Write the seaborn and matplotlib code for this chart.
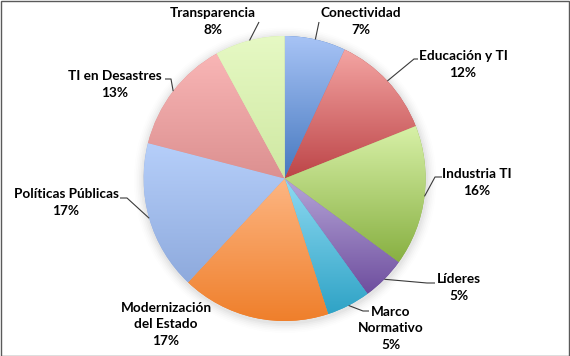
import numpy as np
import matplotlib
matplotlib.use("Agg")
import matplotlib.pyplot as plt
from matplotlib.patches import Ellipse, Rectangle
from matplotlib.colors import to_rgb
import seaborn as sns

# Share of projects by area (percent)
categories = ["Conectividad", "Educación y TI", "Industria TI", "Líderes",
              "Marco\nNormativo", "Modernización\ndel Estado", "Políticas Públicas",
              "TI en Desastres", "Transparencia"]
shares = [7, 12, 16, 5, 5, 17, 17, 13, 8]

# Vertical gradient (top colour, bottom colour) for each slice
top_colors = ["#a8c4f6", "#f4a5a3", "#d8f1a8", "#b6a6d8", "#8fdaf2",
              "#fdb683", "#b6cffa", "#f9b6b6", "#e6f9c4"]
bottom_colors = ["#4678bf", "#bd4548", "#88b042", "#6e4e9e", "#2fa3c6",
                 "#ef7f2b", "#8eaadd", "#dc9090", "#cfe8a2"]

sns.set_theme(style="white")
plt.rcParams["font.family"] = ["Lato", "DejaVu Sans"]

W, H = 570, 356
CX, CY = 284.6, 178.5          # pie centre, pixels from top-left
RX, RY = 141.0, 142.5          # pie radii, pixels

fig = plt.figure(figsize=(W / 100, H / 100), dpi=100)
fig.patch.set_facecolor("white")
ax = fig.add_axes([0, 0, 1, 1])
ax.set_facecolor("white")


def px_to_data(x, y):
    return (x - CX) / RX, (CY - y) / RY


# soft shadow under the pie
for i, a in enumerate(np.linspace(0.05, 0.012, 6)):
    grow = 0.012 * (i + 1)
    ax.add_patch(Ellipse((0.004, -0.012), 2 + 2 * grow, 2 + 2 * grow * RX / RY,
                         facecolor="#7f7f7f", edgecolor="none", alpha=a, zorder=0))

wedges, _ = ax.pie(shares, startangle=90, counterclock=False, radius=1.0,
                   center=(0, 0), wedgeprops=dict(linewidth=0, edgecolor="none"))

for w, c_top, c_bot in zip(wedges, top_colors, bottom_colors):
    w.set_facecolor(c_bot)
    w.set_zorder(1)
    ext = w.get_path().get_extents()
    t = np.linspace(0, 1, 256)[:, None]
    grad = (1 - t) * np.array(to_rgb(c_bot)) + t * np.array(to_rgb(c_top))
    grad = grad[:, None, :].repeat(2, axis=1)
    im = ax.imshow(grad, extent=[ext.x0, ext.x1, ext.y0, ext.y1], origin="lower",
                   aspect="auto", interpolation="bilinear", zorder=2)
    im.set_clip_path(w)

ax.set_aspect("auto")
ax.set_xlim(-CX / RX, (W - CX) / RX)
ax.set_ylim(-(H - CY) / RY, CY / RY)
ax.axis("off")

# label centres (pixels) and leader anchors (pixels) with stub length
label_pos = [(361, 21.5), (463, 64.5), (477, 182.5), (459, 287.5), (391, 328.5),
             (166, 324.5), (66, 202.5), (115, 84.5), (213, 21.5)]
leader_anchor = [(319, 22, 0), (418, 59, -4), (442, 177, -7), (435, 283, -8),
                 (369, 311, -6), None, (120, 198, 7), (165, 79, 6), (259, 22, 0)]

for w, name, share, pos, anc in zip(wedges, categories, shares, label_pos, leader_anchor):
    fig.text(pos[0] / W, 1 - pos[1] / H, f"{name}\n{share}%", ha="center", va="center",
             fontsize=9.8, fontweight="bold", color="black", linespacing=1.42)
    if anc is None:
        continue
    mid = np.deg2rad((w.theta1 + w.theta2) / 2)
    ex, ey = np.cos(mid), np.sin(mid)
    ax_, ay_ = px_to_data(anc[0], anc[1])
    bx_, by_ = px_to_data(anc[0] + anc[2], anc[1])
    ax.plot([ax_, bx_, ex], [ay_, by_, ey], color="#3a3a3a", lw=0.8, zorder=3,
            clip_on=False, solid_capstyle="butt")

# outer frame
fig.patches.append(Rectangle((0.5 / W, 0.5 / H), 1 - 1.5 / W, 1 - 1.5 / H,
                             transform=fig.transFigure, fill=False,
                             edgecolor="#5a5a5a", linewidth=1.0))

fig.savefig("out.png", dpi=100, facecolor="white")
